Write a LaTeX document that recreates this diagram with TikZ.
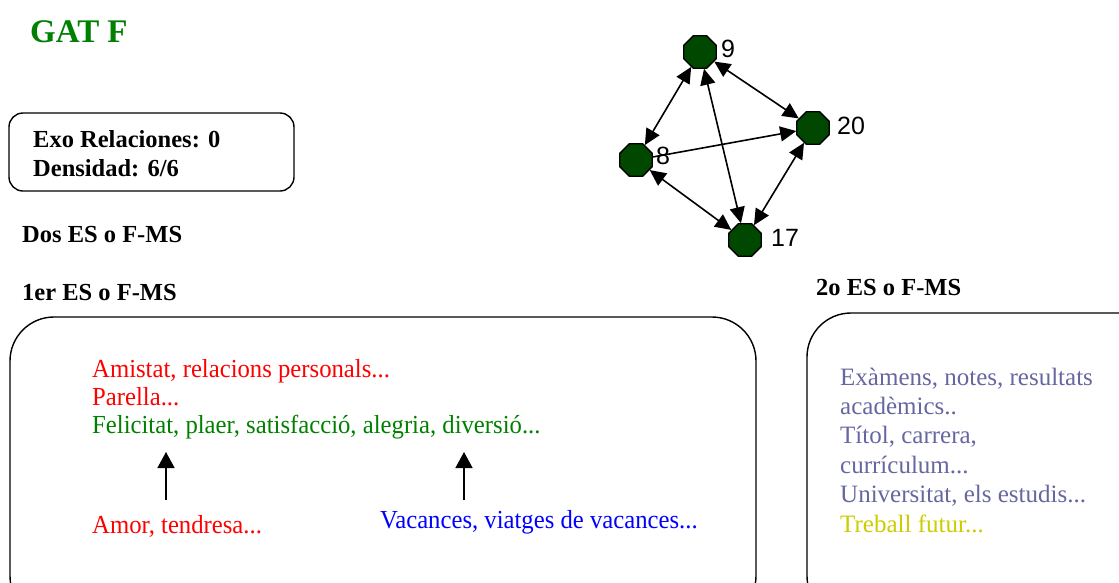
\documentclass[tikz,border=0pt]{standalone}
\usepackage{fontspec}
\setmainfont{Liberation Serif}
\newfontfamily\condfont[FakeStretch=0.95]{Liberation Serif}
\newfontfamily\graphfont{Liberation Sans}
\usetikzlibrary{shapes.geometric,arrows.meta}
\definecolor{Gatgreen}{RGB}{0,128,0}
\definecolor{Nodegreen}{RGB}{0,72,0}
\definecolor{Estblue}{RGB}{102,102,160}
\definecolor{Futyellow}{RGB}{204,204,0}

\begin{document}
\begin{tikzpicture}[x=1pt,y=-1pt,
  vert/.style={regular polygon,regular polygon sides=8,draw=black,line width=1.3pt,
    fill=Nodegreen,minimum size=35pt,inner sep=0pt},
  vlab/.style={font=\graphfont\fontsize{25}{25}\selectfont,anchor=base west,inner sep=0pt},
  link/.style={line width=1.6pt,{Triangle[length=16pt,width=15pt]}-{Triangle[length=16pt,width=15pt]}},
  title/.style={font=\bfseries\fontsize{24.5}{24.5}\selectfont,anchor=base west,inner sep=0pt},
  caja/.style={draw=black,line width=1.4pt,rounded corners=44pt},
  frase/.style={font=\condfont\fontsize{26}{26}\selectfont,anchor=base west,inner sep=0pt}]
\useasboundingbox (0,0) rectangle (1119,582);

\node[title,text=Gatgreen,font=\bfseries\fontsize{33}{33}\selectfont] (gat) at (30,42) {GAT F};

% caja de datos
\draw[line width=1.4pt,rounded corners=14pt] (9,113) rectangle (294,191);
\node[title,align=left,font=\bfseries\fontsize{24.5}{29}\selectfont] (datos) at (33,176)
  {Exo Relaciones: 0\\Densidad: 6/6};

\node[title] (dos) at (22,242) {Dos ES o F-MS};
\node[title] (primer) at (22,300) {1er ES o F-MS};
\node[title] (segundo) at (816,295) {2o ES o F-MS};

% red
\node[vert] (n9) at (700,52) {};
\node[vert] (n20) at (813,128) {};
\node[vert] (n8) at (636,160) {};
\node[vert] (n17) at (745,240) {};
\node[vlab] (l9) at (721,57) {9};
\node[vlab] (l20) at (837,134) {20};
\node[vlab] (l8) at (656,164) {8};
\node[vlab] (l17) at (771,246) {17};
\foreach \a/\b in {n9/n8,n9/n20,n9/n17,n8/n17,n20/n17}
  \draw[link] (\a) -- (\b);
\draw[link,-{Triangle[length=16pt,width=15pt]}] (n8) -- (n20);

% primer ES
\draw[caja] (10,317) rectangle (756,620);
\node[frase,text=red] (amistat) at (92,377) {Amistat, relacions personals...};
\node[frase,text=red] (parella) at (92,405) {Parella...};
\node[frase,text=Gatgreen] (felic) at (92,433) {Felicitat, plaer, satisfacció, alegria, diversió...};
\node[frase,text=red] (amor) at (92,533) {Amor, tendresa...};
\node[frase,text=blue] (vac) at (380,528) {Vacances, viatges de vacances...};
\coordinate (p1) at (166,500);
\coordinate (q1) at (166,452);
\coordinate (p2) at (464,500);
\coordinate (q2) at (464,452);
\draw[line width=1.4pt,-{Triangle[length=16pt,width=17pt]}] (p1) -- (q1);
\draw[line width=1.4pt,-{Triangle[length=16pt,width=17pt]}] (p2) -- (q2);

% segundo ES
\draw[caja] (807,313) rectangle (1170,620);
\node[anchor=base west,inner sep=0pt,align=left,text=Estblue,font=\fontsize{25}{29.4}\selectfont] (estudis) at (840,532)
  {Exàmens, notes, resultats\\acadèmics..\\Títol, carrera,\\currículum...\\Universitat, els estudis...\\\textcolor{Futyellow}{Treball futur...}};
\end{tikzpicture}
\end{document}
